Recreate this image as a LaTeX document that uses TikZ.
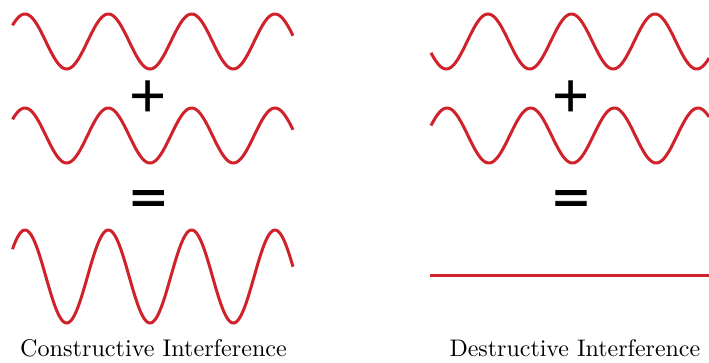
\documentclass[tikz,border=0pt]{standalone}
\usepackage{fontspec}
\usepackage{graphicx}
\newfontfamily\symfont{Liberation Sans}
\newfontfamily\symfontfb[FakeBold=2]{Liberation Sans Bold}
\definecolor{wavered}{RGB}{208,34,42}
\tikzset{
  wave/.style={draw=wavered, line width=3pt, line cap=butt},
  plussign/.style={inner sep=0pt, anchor=base, font=\symfont\fontsize{63.6}{64}\selectfont},
  eqsign/.style={inner sep=0pt, anchor=base, font=\symfontfb\fontsize{60}{60}\selectfont},
  caption/.style={anchor=base west, inner sep=0pt}
}
\begin{document}
\begin{tikzpicture}[x=1pt,y=-1pt]
\useasboundingbox (0,0) rectangle (709,362);
% left panel: constructive
\draw[wave] plot[domain=12.5:293, samples=240, smooth] (\x, {41.5-27.5*cos(4.3202*(\x-25))});
\draw[wave] plot[domain=12.5:293, samples=240, smooth] (\x, {135.5-27.5*cos(4.3202*(\x-25))});
\draw[wave] plot[domain=12.5:293, samples=240, smooth] (\x, {276.5-46.5*cos(4.3202*(\x-25))});
\node[plussign] (plusL) at (148.3,117.3) {+};
\node[eqsign] (eqL) at (148.3,211.3) {\scalebox{1}[0.67]{=}};
\node[caption] (capL) at (20,356.7) {\resizebox{266.7pt}{!}{Constructive Interference}};
% right panel: destructive
\draw[wave] plot[domain=431:709, samples=240, smooth] (\x, {41.5-27.5*cos(4.3114*(\x-488))});
\draw[wave] plot[domain=431:709, samples=240, smooth] (\x, {135.5-27.5*cos(4.3026*(\x-447))});
\draw[wave] (429.5,275.5) -- (709,275.5);
\node[plussign] (plusR) at (571,117.3) {+};
\node[eqsign] (eqR) at (571,211.3) {\scalebox{1}[0.67]{=}};
\node[caption] (capR) at (449.3,356.7) {\resizebox{250.7pt}{!}{Destructive Interference}};
\end{tikzpicture}
\end{document}
